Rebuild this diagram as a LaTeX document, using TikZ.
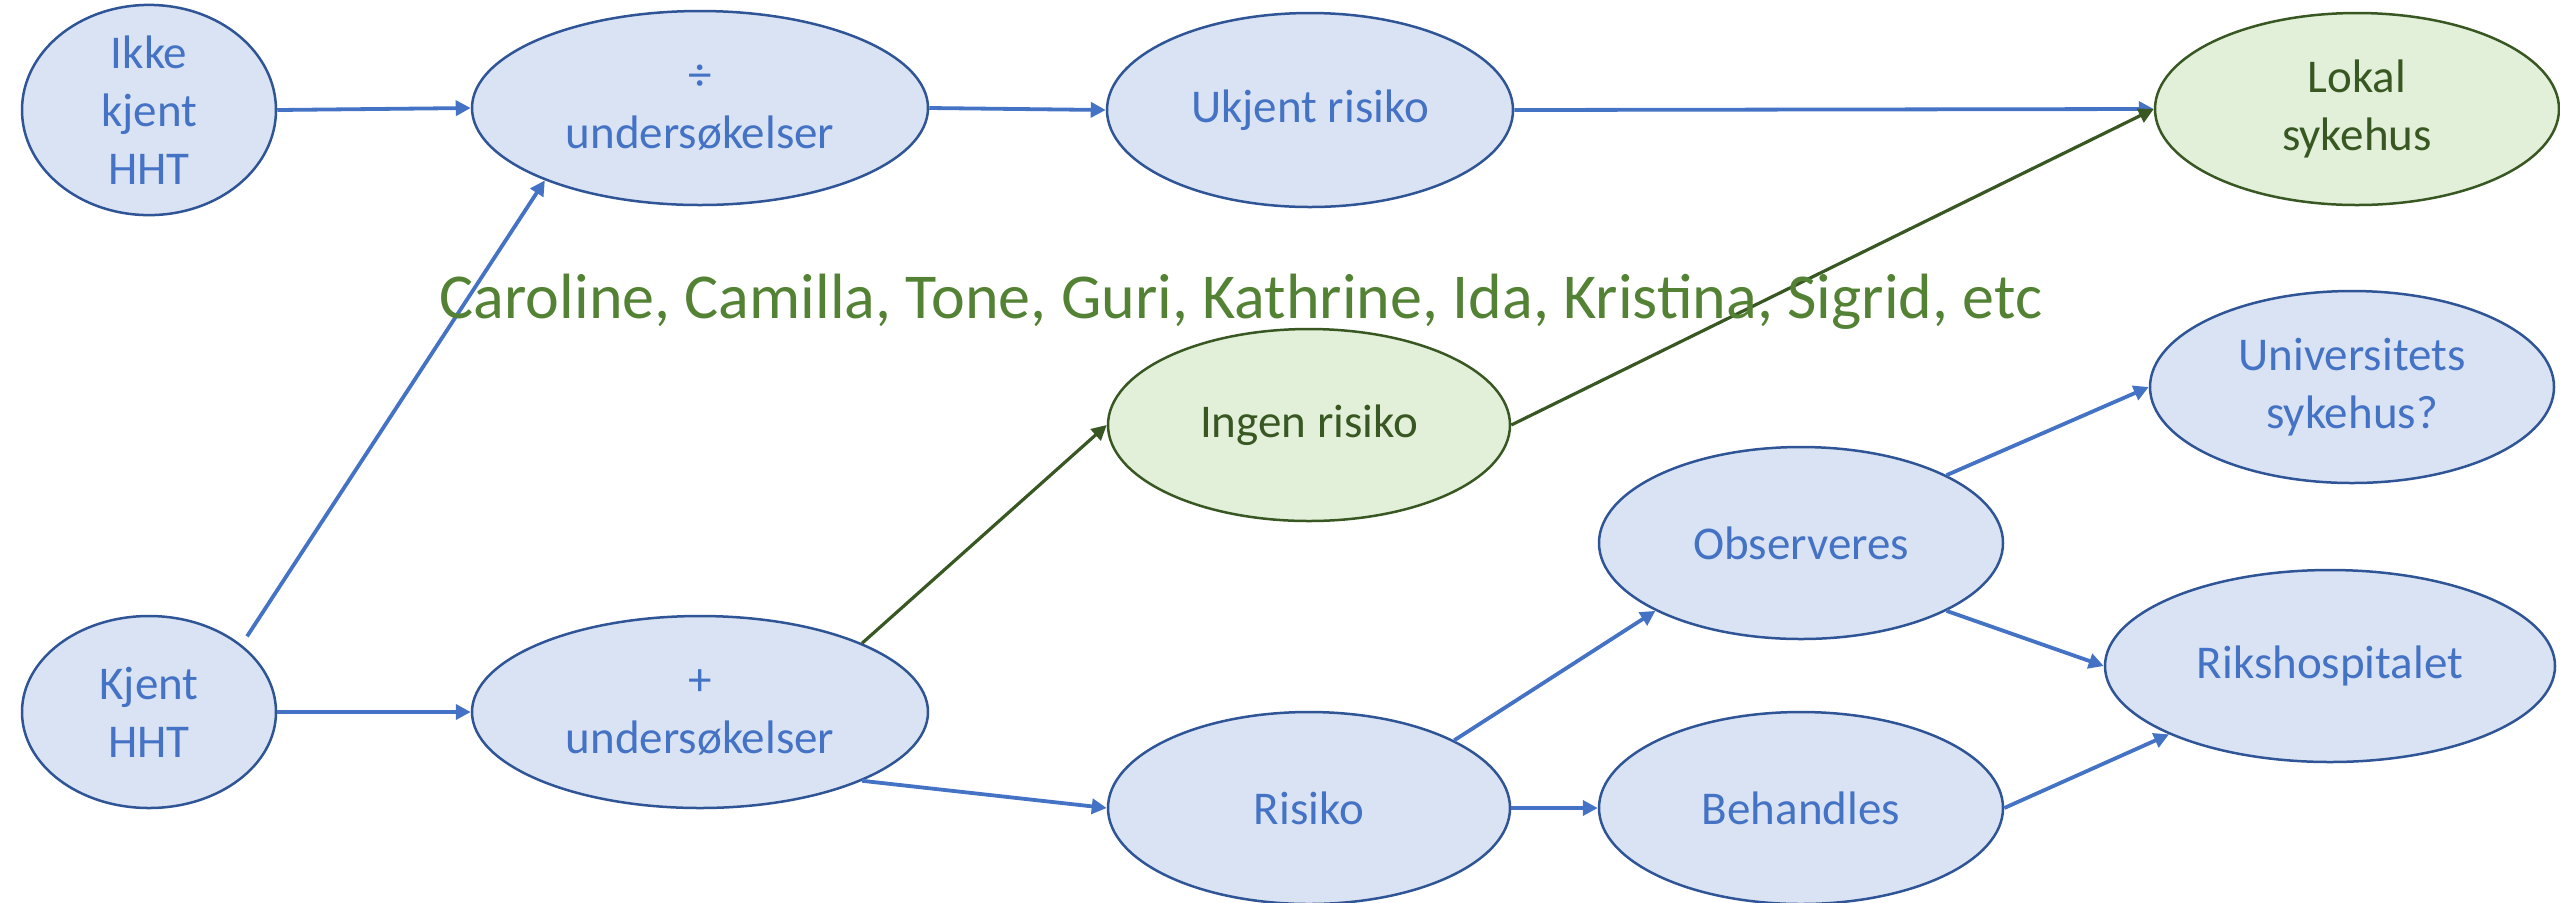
\documentclass[tikz,border=0pt]{standalone}
\usepackage{fontspec}
\setmainfont{Carlito}
\usetikzlibrary{shapes.geometric,arrows.meta}
\definecolor{bfill}{HTML}{DAE3F3}
\definecolor{bdraw}{HTML}{2F5597}
\definecolor{btext}{HTML}{4472C4}
\definecolor{gfill}{HTML}{E2F0D9}
\definecolor{gdraw}{HTML}{385723}
\definecolor{gtext}{HTML}{548235}
\begin{document}
\begin{tikzpicture}[x=0.5pt,y=-0.5pt,
  bnode/.style={ellipse,draw=bdraw,fill=bfill,line width=1.25pt,text=btext,inner sep=0pt,align=center,font=\fontsize{23.5}{29}\selectfont},
  gnode/.style={bnode,draw=gdraw,fill=gfill,text=gdraw},
  barrow/.style={draw=btext,line width=1.9pt,-{Triangle[length=7.5pt,width=7.5pt]}},
  garrow/.style={draw=gdraw,line width=1.6pt,-{Triangle[length=7.5pt,width=7.5pt]}}]
\useasboundingbox (0,0) rectangle (2560,902);
\node[bnode,minimum width=127pt,minimum height=97pt] (ikke) at (149,110) {Ikke\\kjent\\HHT};
\node[bnode,minimum width=228pt,minimum height=97pt] (div) at (700,108) {÷\\undersøkelser};
\node[bnode,minimum width=203pt,minimum height=97pt] (ukjent) at (1310,110) {Ukjent risiko};
\node[gnode,minimum width=202pt,minimum height=96pt] (lokal) at (2357,109) {Lokal\\sykehus};
\node[bnode,minimum width=127pt,minimum height=96pt] (kjent) at (149,712) {Kjent\\HHT};
\node[bnode,minimum width=228pt,minimum height=96pt] (plus) at (700,712) {+\\undersøkelser};
\node[gnode,minimum width=201pt,minimum height=96pt] (ingen) at (1309,425) {Ingen risiko};
\node[bnode,minimum width=202pt,minimum height=96pt] (obs) at (1801,543) {Observeres};
\node[bnode,minimum width=202pt,minimum height=96pt] (univ) at (2352,387) {Universitets\\sykehus?};
\node[bnode,minimum width=225pt,minimum height=96pt] (riks) at (2330,666) {Rikshospitalet};
\node[bnode,minimum width=201pt,minimum height=96pt] (risiko) at (1309,808) {Risiko};
\node[bnode,minimum width=202pt,minimum height=96pt] (beh) at (1801,808) {Behandles};

\draw[barrow] (ikke.east) -- (div.west);
\draw[barrow] (div.east) -- (ukjent.west);
\draw[barrow] (ukjent.east) -- (lokal.west);
\draw[barrow,shorten <=5pt] (kjent.36) -- (div.205);
\draw[barrow] (kjent.east) -- (plus.west);
\draw[garrow] (plus.23) -- (ingen.west);
\draw[garrow] (ingen.east) -- (lokal.west);
\draw[barrow] (plus.-23) -- (risiko.west);
\draw[barrow] (risiko.25) -- (obs.205);
\draw[barrow] (risiko.east) -- (beh.west);
\draw[barrow] (obs.25) -- (univ.west);
\draw[barrow] (obs.-25) -- (riks.west);
\draw[barrow] (beh.east) -- (riks.203);

\node[text=gtext,inner sep=0pt,font=\fontsize{32}{38}\selectfont] (names) at (1241,302) {Caroline, Camilla, Tone, Guri, Kathrine, Ida, Kristina, Sigrid, etc};
\end{tikzpicture}
\end{document}
